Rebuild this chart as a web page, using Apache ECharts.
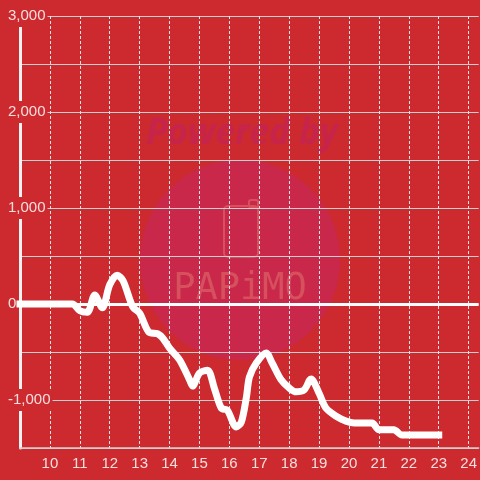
<!DOCTYPE html>
<html>
<head>
<meta charset="utf-8">
<script src="https://cdn.jsdelivr.net/npm/echarts@6/dist/echarts.min.js"></script>
<style>html,body{margin:0;padding:0;background:#cd2a30;}#c{width:480px;height:480px;}</style>
</head>
<body>
<div id="c"></div>
<script>
// Hours of day (x) and values (y)
const hours = [9.0, 10.75, 11.0, 11.25, 11.5, 11.75, 12.0, 12.25, 12.45, 12.77, 13.0, 13.3, 13.6, 13.77, 14.0, 14.33, 14.67, 14.77, 15.0, 15.27, 15.5, 15.73, 15.93, 16.23, 16.4, 16.57, 16.67, 16.9, 17.23, 17.43, 17.73, 18.0, 18.23, 18.5, 18.73, 19.0, 19.23, 19.6, 19.9, 20.17, 20.77, 21.0, 21.5, 21.77, 23.0];
const values = [0, 0, -70, -85, 95, -40, 200, 300, 240, -30, -95, -290, -310, -355, -460, -580, -790, -855, -720, -690, -880, -1085, -1105, -1280, -1230, -970, -760, -615, -510, -615, -790, -875, -915, -895, -780, -930, -1085, -1175, -1220, -1240, -1240, -1310, -1310, -1365, -1365];
const xTicks = [10, 11, 12, 13, 14, 15, 16, 17, 18, 19, 20, 21, 22, 23, 24];
const yTicks = [-1000, 0, 1000, 2000, 3000];

const seriesData = hours.map((h, i) => [h, values[i]]);
const labelColor = '#f5dede';
const bg = '#cd2a30';

const chart = echarts.init(document.getElementById('c'));
chart.setOption({
  backgroundColor: bg,
  animation: false,
  grid: { left: 20, right: 0, top: 16, bottom: 32, containLabel: false },
  graphic: [
    { type: 'circle', z: -10, silent: true, shape: { cx: 240, cy: 260, r: 100 }, style: { fill: '#c9284a' } },
    { type: 'text', z: -10, silent: true, x: 242, y: 134,
      style: { text: 'Powered by', fill: '#c6244a', font: 'italic bold 35px "Open Sans"', align: 'center', verticalAlign: 'middle' } },
    { type: 'rect', z: -10, silent: true, shape: { x: 224, y: 206, width: 34, height: 51, r: 4 },
      style: { fill: 'none', stroke: '#d6505d', lineWidth: 2 } },
    { type: 'rect', z: -10, silent: true, shape: { x: 249, y: 200, width: 9, height: 8, r: 2 },
      style: { fill: 'none', stroke: '#d6505d', lineWidth: 2 } },
    { type: 'text', z: -10, silent: true, x: 240, y: 289,
      style: { text: 'PAPiMO', fill: '#d6505d', font: '37px "DejaVu Sans Mono"', align: 'center', verticalAlign: 'middle' } }
  ],
  xAxis: {
    type: 'value', min: 9, max: 9 + 460 / 30, interval: 1,
    axisLine: { show: true, onZero: false, lineStyle: { color: '#cfcfcf', width: 1.5 } },
    axisTick: { show: false },
    axisLabel: {
      color: labelColor, fontSize: 15, fontFamily: '"Liberation Sans", Arial, sans-serif', margin: 8,
      showMinLabel: false, showMaxLabel: false,
      formatter: v => xTicks.indexOf(v) >= 0 ? String(v) : ''
    },
    splitLine: { show: true, showMinLine: false, showMaxLine: false, lineStyle: { color: '#e6e6e6', type: [3, 2], width: 1 } }
  },
  yAxis: {
    type: 'value', min: -1500, max: 3000, interval: 500,
    axisLine: { show: true, onZero: false, lineStyle: { color: '#f2f2f2', width: 3 } },
    axisTick: { show: false },
    axisLabel: {
      color: labelColor, fontSize: 15, fontFamily: '"Liberation Sans", Arial, sans-serif',
      align: 'left', margin: 14, backgroundColor: bg, padding: [3, 2, 4, 2],
      formatter: v => yTicks.indexOf(v) >= 0 ? v.toLocaleString('en-US') : ''
    },
    splitLine: { show: true, lineStyle: { color: '#cfcfcf', width: 1 } }
  },
  series: [{
    type: 'line',
    data: seriesData,
    smooth: 0.3,
    showSymbol: false,
    symbol: 'none',
    lineStyle: { color: '#ffffff', width: 7, cap: 'square', join: 'round' },
    markLine: {
      silent: true, symbol: 'none', label: { show: false },
      lineStyle: { color: '#ffffff', width: 3, type: 'solid' },
      data: [{ yAxis: 0 }]
    }
  }]
});
</script>
</body>
</html>
